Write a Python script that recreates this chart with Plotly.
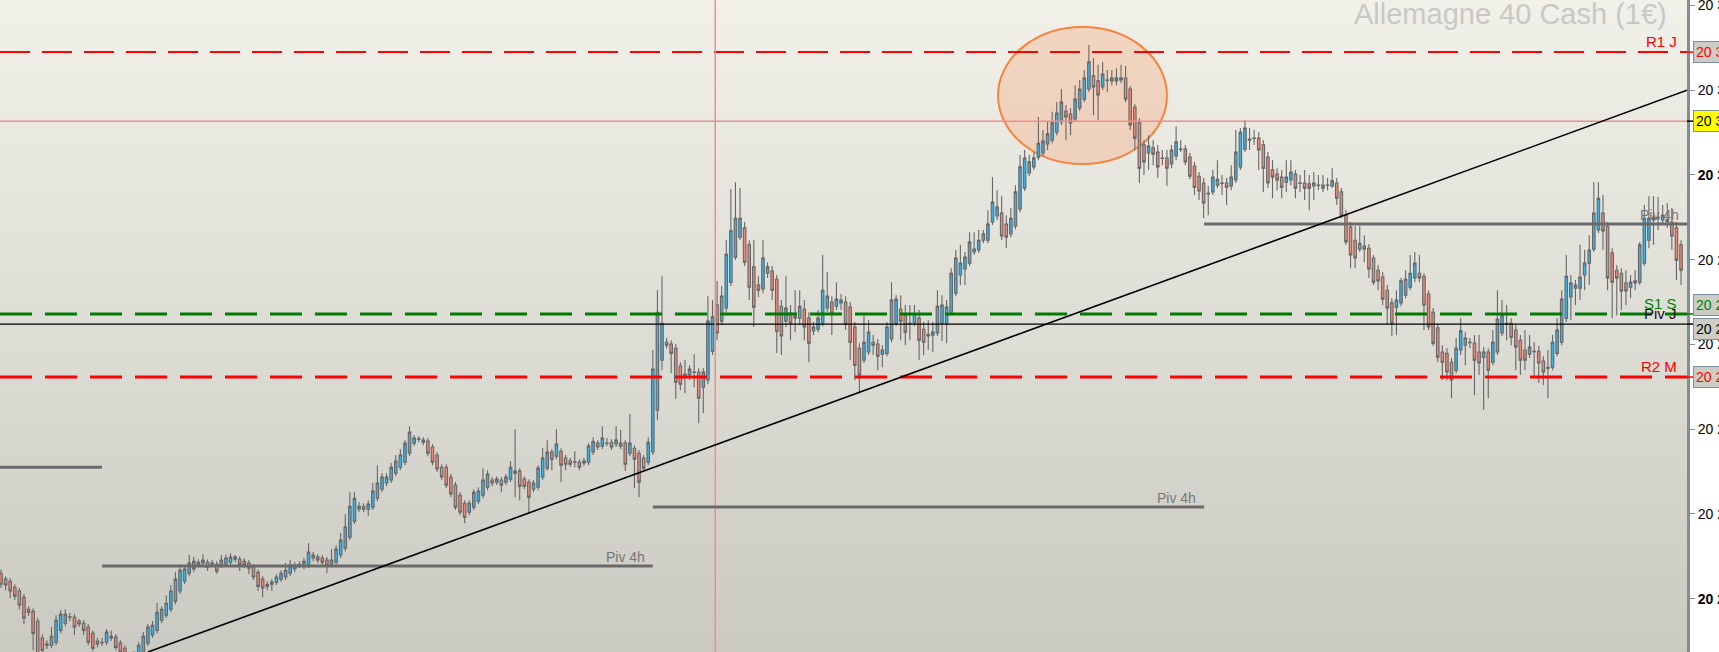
import plotly.graph_objects as go

# --- candles (one bar per period) ---
opens = [
    20206.0, 20204.6, 20204.1, 20202.7, 20201.8, 20200.3, 20197.5, 20197.0, 20194.7, 20190.7,
    20189.0, 20189.0, 20189.7, 20192.5, 20194.2, 20195.6, 20195.6, 20194.7, 20194.2, 20193.3,
    20191.8, 20190.0, 20189.7, 20189.7, 20191.1, 20190.9, 20189.5, 20188.3, 20186.4, 20184.5,
    20186.7, 20187.4, 20189.5, 20191.4, 20192.5, 20194.9, 20196.1, 20197.5, 20199.4, 20201.8,
    20204.1, 20206.0, 20207.0, 20208.1, 20208.4, 20208.6, 20208.1, 20208.1, 20207.9, 20208.1,
    20208.6, 20209.3, 20209.3, 20208.8, 20208.4, 20207.4, 20206.2, 20204.6, 20202.9, 20203.4,
    20203.9, 20204.6, 20205.1, 20206.0, 20207.0, 20207.9, 20207.7, 20207.9, 20209.6, 20209.8,
    20209.6, 20209.1, 20208.1, 20208.6, 20210.3, 20211.9, 20214.5, 20218.3, 20221.1, 20221.8,
    20221.1, 20221.6, 20223.7, 20225.8, 20227.3, 20228.0, 20229.6, 20231.0, 20232.2, 20234.3,
    20236.7, 20237.7, 20237.4, 20237.2, 20235.8, 20233.9, 20231.0, 20231.0, 20228.7, 20226.8,
    20224.4, 20222.5, 20220.4, 20221.6, 20223.0, 20224.4, 20226.3, 20228.0, 20227.5, 20228.0,
    20227.5, 20228.2, 20229.6, 20230.1, 20228.2, 20227.5, 20225.8, 20226.3, 20228.7, 20230.8,
    20234.6, 20233.6, 20234.8, 20233.2, 20232.5, 20232.2, 20232.2, 20232.0, 20232.2, 20234.6,
    20236.7, 20236.0, 20236.7, 20236.9, 20236.5, 20236.7, 20236.7, 20234.3, 20235.5, 20234.3,
    20233.2, 20232.2, 20234.6, 20244.5, 20256.3, 20260.5, 20260.1, 20259.1, 20254.9, 20253.0,
    20252.8, 20253.5, 20253.5, 20249.9, 20251.6, 20258.4, 20269.3, 20265.5, 20268.6, 20274.7,
    20280.6, 20285.3, 20287.5, 20283.5, 20278.3, 20274.0, 20273.1, 20276.8, 20277.3, 20275.4,
    20269.0, 20265.5, 20267.4, 20266.2, 20266.2, 20268.3, 20266.2, 20263.2, 20263.6, 20265.0,
    20268.6, 20270.0, 20269.0, 20269.8, 20270.0, 20268.8, 20264.1, 20259.1, 20256.3, 20258.2,
    20260.5, 20260.1, 20257.7, 20257.9, 20261.3, 20265.0, 20268.3, 20266.9, 20265.0, 20265.0,
    20266.2, 20263.6, 20262.4, 20262.2, 20262.7, 20265.0, 20265.0, 20267.6, 20272.1, 20276.4,
    20277.8, 20279.2, 20281.8, 20282.3, 20284.6, 20284.6, 20288.9, 20290.3, 20291.0, 20288.4,
    20286.1, 20287.9, 20292.0, 20296.9, 20300.5, 20301.9, 20304.2, 20305.2, 20307.3, 20308.2,
    20310.1, 20312.5, 20315.1, 20314.4, 20313.2, 20315.8, 20317.9, 20320.3, 20323.4, 20322.2,
    20320.8, 20322.4, 20322.2, 20322.2, 20322.4, 20322.9, 20320.3, 20316.0, 20312.3, 20307.1,
    20305.2, 20306.4, 20305.4, 20304.0, 20304.0, 20302.6, 20304.5, 20306.1, 20306.1, 20304.2,
    20302.1, 20299.7, 20298.1, 20295.5, 20296.0, 20297.6, 20298.1, 20298.1, 20297.4, 20298.8,
    20301.9, 20306.1, 20308.5, 20308.7, 20308.7, 20307.1, 20304.2, 20301.2, 20300.2, 20299.5,
    20298.3, 20298.8, 20300.2, 20298.1, 20298.1, 20297.9, 20297.4, 20297.6, 20297.6, 20297.6,
    20297.4, 20298.1, 20296.0, 20290.5, 20287.7, 20284.6, 20282.5, 20283.2, 20282.7, 20280.4,
    20277.5, 20275.9, 20272.8, 20269.8, 20268.8, 20269.8, 20271.6, 20273.5, 20275.7, 20276.8,
    20276.1, 20271.9, 20267.6, 20263.9, 20258.2, 20257.9, 20255.8, 20253.9, 20258.7, 20259.8,
    20260.5, 20260.3, 20258.2, 20257.0, 20258.2, 20255.8, 20258.2, 20262.7, 20265.0, 20265.0,
    20263.4, 20261.0, 20258.7, 20257.7, 20258.4, 20258.4, 20256.1, 20254.4, 20254.6, 20257.9,
    20260.5, 20266.2, 20271.2, 20273.3, 20273.3, 20276.4, 20279.2, 20282.5, 20287.0, 20291.0,
    20287.9, 20281.6, 20277.5, 20276.8, 20274.5, 20273.5, 20274.5, 20274.7, 20279.2, 20284.6,
    20289.4, 20289.8, 20289.4, 20289.4, 20288.9, 20287.5, 20283.5,
]
highs = [
    20206.9, 20205.3, 20204.8, 20203.4, 20202.5, 20201.1, 20198.2, 20197.7, 20195.4, 20191.6,
    20190.2, 20193.3, 20196.1, 20197.3, 20197.5, 20196.6, 20196.3, 20195.2, 20194.9, 20194.0,
    20192.5, 20190.7, 20190.7, 20192.8, 20192.5, 20191.6, 20190.2, 20189.0, 20187.1, 20187.6,
    20189.7, 20192.1, 20194.0, 20194.7, 20198.9, 20198.2, 20200.8, 20203.2, 20206.2, 20207.4,
    20207.9, 20210.3, 20209.8, 20209.3, 20210.5, 20209.3, 20209.1, 20208.8, 20210.3, 20210.5,
    20210.7, 20210.3, 20210.0, 20209.6, 20209.1, 20208.1, 20206.9, 20205.3, 20204.1, 20204.6,
    20205.8, 20206.7, 20208.4, 20209.1, 20208.6, 20208.8, 20209.6, 20213.1, 20211.0, 20210.5,
    20210.3, 20209.8, 20211.7, 20212.6, 20215.5, 20219.9, 20225.1, 20225.1, 20222.8, 20222.5,
    20223.2, 20227.3, 20231.5, 20229.6, 20229.6, 20232.0, 20233.9, 20235.3, 20237.4, 20240.7,
    20238.6, 20238.4, 20238.1, 20237.9, 20236.5, 20234.6, 20231.7, 20231.7, 20229.4, 20227.5,
    20225.1, 20223.2, 20223.2, 20225.8, 20226.3, 20230.8, 20230.3, 20228.7, 20228.9, 20228.7,
    20229.4, 20232.5, 20240.0, 20230.8, 20228.9, 20228.2, 20228.0, 20231.5, 20235.5, 20237.4,
    20235.3, 20240.0, 20235.5, 20233.9, 20233.2, 20234.8, 20232.9, 20233.2, 20236.7, 20238.1,
    20237.4, 20240.7, 20237.9, 20237.6, 20240.7, 20239.8, 20237.4, 20243.6, 20236.2, 20235.1,
    20233.9, 20238.1, 20258.7, 20272.8, 20276.1, 20261.5, 20261.0, 20260.1, 20255.8, 20256.3,
    20255.1, 20257.7, 20254.4, 20254.4, 20271.4, 20270.5, 20275.0, 20273.8, 20284.6, 20296.7,
    20298.3, 20296.9, 20288.9, 20284.6, 20284.6, 20276.1, 20284.6, 20279.4, 20278.5, 20276.4,
    20270.5, 20276.1, 20269.3, 20272.8, 20272.8, 20270.5, 20267.6, 20265.3, 20268.1, 20281.1,
    20277.1, 20271.4, 20274.7, 20271.9, 20271.4, 20270.0, 20265.3, 20260.3, 20266.9, 20265.7,
    20262.2, 20261.3, 20259.8, 20265.3, 20274.7, 20271.6, 20271.6, 20269.3, 20269.3, 20269.3,
    20268.1, 20265.3, 20265.7, 20265.3, 20272.8, 20271.6, 20270.5, 20278.0, 20282.3, 20283.5,
    20281.8, 20286.5, 20286.5, 20287.0, 20287.0, 20291.7, 20299.5, 20296.4, 20295.0, 20290.5,
    20292.2, 20297.6, 20304.7, 20305.9, 20304.7, 20305.4, 20313.7, 20310.6, 20312.5, 20314.9,
    20317.2, 20320.3, 20316.5, 20315.8, 20321.2, 20322.4, 20324.8, 20330.7, 20327.6, 20326.0,
    20326.7, 20324.8, 20324.8, 20325.2, 20326.0, 20325.7, 20321.0, 20316.7, 20313.4, 20308.2,
    20309.4, 20308.2, 20307.1, 20305.9, 20305.9, 20307.1, 20311.5, 20308.2, 20307.1, 20305.2,
    20303.1, 20300.7, 20299.3, 20297.4, 20301.2, 20303.5, 20300.0, 20299.3, 20302.3, 20310.6,
    20311.1, 20313.0, 20311.1, 20310.6, 20310.1, 20308.2, 20305.4, 20303.5, 20301.6, 20301.2,
    20303.5, 20303.5, 20301.2, 20300.0, 20301.2, 20300.0, 20300.7, 20300.0, 20300.0, 20299.3,
    20301.6, 20299.3, 20296.9, 20291.7, 20288.9, 20287.9, 20287.9, 20285.8, 20283.7, 20281.1,
    20278.7, 20277.1, 20274.0, 20270.9, 20272.8, 20275.7, 20277.5, 20281.1, 20281.8, 20281.1,
    20276.8, 20272.8, 20268.6, 20264.8, 20259.8, 20259.1, 20256.8, 20261.5, 20266.2, 20262.9,
    20261.5, 20262.2, 20262.2, 20259.4, 20259.1, 20263.4, 20272.8, 20270.5, 20269.3, 20266.2,
    20264.6, 20262.2, 20263.4, 20262.2, 20260.5, 20259.6, 20257.2, 20258.7, 20262.2, 20266.2,
    20272.8, 20281.1, 20276.4, 20275.2, 20283.5, 20282.3, 20285.8, 20298.3, 20298.3, 20295.3,
    20288.9, 20282.7, 20278.7, 20278.0, 20277.5, 20276.4, 20277.5, 20284.2, 20292.9, 20295.0,
    20295.0, 20294.8, 20292.9, 20293.4, 20292.2, 20288.9, 20284.6,
]
lows = [
    20202.5, 20202.0, 20200.1, 20199.6, 20197.5, 20194.0, 20195.9, 20187.8, 20185.5, 20186.7,
    20188.1, 20188.3, 20189.0, 20191.8, 20193.5, 20194.7, 20191.4, 20193.3, 20191.4, 20189.0,
    20187.6, 20188.5, 20188.8, 20189.0, 20190.0, 20187.8, 20186.4, 20185.0, 20183.1, 20183.6,
    20185.7, 20186.7, 20188.8, 20190.7, 20191.8, 20194.2, 20195.4, 20196.8, 20198.7, 20201.1,
    20203.4, 20205.3, 20206.2, 20207.4, 20207.7, 20206.5, 20207.4, 20205.8, 20207.2, 20207.7,
    20207.9, 20208.6, 20206.5, 20207.2, 20205.8, 20204.4, 20201.8, 20200.3, 20202.0, 20201.8,
    20203.2, 20203.9, 20204.4, 20205.3, 20206.2, 20207.2, 20207.0, 20207.2, 20208.8, 20208.4,
    20207.9, 20206.0, 20207.4, 20207.9, 20209.6, 20211.2, 20213.8, 20217.6, 20220.4, 20220.4,
    20219.5, 20220.9, 20223.0, 20225.1, 20226.5, 20227.3, 20228.9, 20230.3, 20231.5, 20233.6,
    20236.0, 20236.9, 20236.2, 20233.6, 20231.5, 20229.9, 20228.0, 20226.1, 20223.9, 20220.9,
    20219.7, 20217.8, 20219.7, 20220.9, 20222.3, 20223.7, 20225.6, 20226.5, 20226.8, 20225.1,
    20226.8, 20227.5, 20223.9, 20223.2, 20225.8, 20220.2, 20225.1, 20225.6, 20228.0, 20230.1,
    20230.3, 20232.9, 20227.5, 20230.3, 20231.0, 20231.0, 20230.3, 20231.3, 20231.5, 20233.9,
    20235.1, 20235.3, 20236.0, 20235.1, 20235.8, 20235.3, 20230.1, 20233.6, 20226.1, 20223.9,
    20230.1, 20231.5, 20233.9, 20242.1, 20253.9, 20259.1, 20253.2, 20247.1, 20249.2, 20248.5,
    20251.6, 20249.9, 20241.4, 20243.8, 20250.6, 20257.5, 20261.0, 20264.6, 20267.6, 20273.8,
    20279.9, 20284.6, 20278.5, 20270.5, 20264.1, 20271.2, 20272.1, 20275.7, 20270.5, 20258.0,
    20257.5, 20264.1, 20261.0, 20262.9, 20264.6, 20261.0, 20255.8, 20262.2, 20262.9, 20264.3,
    20267.6, 20262.2, 20268.1, 20268.1, 20263.4, 20256.3, 20251.6, 20248.5, 20255.6, 20257.5,
    20257.5, 20253.9, 20254.6, 20257.2, 20260.5, 20264.3, 20261.0, 20259.8, 20261.0, 20264.3,
    20256.3, 20257.5, 20258.7, 20258.2, 20262.0, 20260.8, 20260.3, 20266.9, 20271.4, 20274.0,
    20274.0, 20278.5, 20281.1, 20281.6, 20283.9, 20283.9, 20288.2, 20289.4, 20284.6, 20282.7,
    20285.3, 20287.2, 20291.2, 20296.2, 20299.7, 20301.2, 20303.5, 20304.5, 20305.9, 20307.5,
    20309.4, 20311.8, 20308.2, 20309.4, 20312.5, 20315.1, 20317.2, 20319.6, 20314.1, 20313.0,
    20320.0, 20319.6, 20321.2, 20321.2, 20321.7, 20317.2, 20310.6, 20305.9, 20298.1, 20300.0,
    20301.2, 20302.3, 20299.3, 20302.3, 20297.4, 20301.6, 20303.5, 20305.4, 20302.3, 20299.0,
    20295.3, 20294.1, 20289.8, 20290.5, 20295.3, 20296.9, 20295.3, 20292.9, 20296.4, 20298.1,
    20301.2, 20305.4, 20305.9, 20307.1, 20301.2, 20296.0, 20296.9, 20294.5, 20296.4, 20294.5,
    20296.0, 20297.6, 20294.5, 20296.0, 20294.1, 20291.7, 20294.1, 20296.4, 20296.0, 20296.4,
    20296.9, 20292.9, 20289.8, 20283.5, 20278.0, 20278.0, 20281.8, 20279.4, 20275.7, 20274.0,
    20272.8, 20269.3, 20264.6, 20262.0, 20262.2, 20269.0, 20270.9, 20272.8, 20274.7, 20274.7,
    20263.4, 20263.4, 20259.6, 20255.8, 20251.6, 20251.6, 20247.3, 20253.2, 20257.5, 20255.1,
    20259.1, 20248.0, 20252.8, 20244.5, 20247.3, 20255.1, 20257.5, 20262.0, 20261.0, 20259.8,
    20253.9, 20252.8, 20253.9, 20256.8, 20252.1, 20250.9, 20250.4, 20247.3, 20253.9, 20257.2,
    20259.8, 20265.3, 20265.7, 20269.3, 20270.5, 20272.8, 20274.0, 20281.8, 20286.3, 20282.3,
    20272.8, 20266.2, 20266.9, 20268.1, 20269.3, 20270.9, 20272.8, 20274.0, 20278.5, 20282.7,
    20283.5, 20287.0, 20288.2, 20287.5, 20282.3, 20275.2, 20274.0,
]
closes = [
    20203.4, 20203.2, 20201.8, 20200.6, 20198.5, 20195.4, 20196.8, 20191.8, 20186.7, 20187.8,
    20189.3, 20191.1, 20194.9, 20196.3, 20196.3, 20195.7, 20193.3, 20194.0, 20192.5, 20189.7,
    20188.3, 20189.3, 20189.6, 20192.1, 20190.7, 20188.5, 20187.4, 20185.9, 20184.3, 20186.7,
    20189.0, 20191.1, 20193.3, 20193.7, 20196.8, 20197.5, 20198.9, 20201.8, 20204.6, 20206.7,
    20207.0, 20208.4, 20208.8, 20208.6, 20209.1, 20207.4, 20208.4, 20206.5, 20209.1, 20209.6,
    20209.8, 20209.8, 20208.1, 20207.9, 20207.2, 20205.1, 20202.9, 20202.5, 20203.4, 20203.9,
    20205.1, 20206.0, 20206.7, 20207.9, 20207.9, 20208.1, 20208.8, 20211.0, 20210.3, 20209.1,
    20208.6, 20207.9, 20209.1, 20211.7, 20213.8, 20216.9, 20221.8, 20223.7, 20221.8, 20221.1,
    20222.3, 20225.4, 20227.3, 20228.7, 20228.7, 20231.0, 20232.5, 20233.9, 20236.7, 20239.3,
    20237.9, 20237.6, 20236.9, 20234.3, 20232.2, 20230.6, 20228.7, 20226.8, 20224.7, 20221.6,
    20220.4, 20219.2, 20222.5, 20225.1, 20225.4, 20228.0, 20229.4, 20227.3, 20228.2, 20226.8,
    20228.7, 20231.0, 20230.1, 20226.5, 20226.5, 20223.9, 20227.3, 20230.8, 20233.2, 20234.6,
    20232.9, 20236.5, 20231.5, 20231.7, 20231.7, 20232.3, 20231.0, 20232.5, 20236.0, 20237.1,
    20235.8, 20237.9, 20236.6, 20235.8, 20237.4, 20236.0, 20231.7, 20236.7, 20232.9, 20227.5,
    20230.8, 20236.9, 20254.2, 20267.6, 20265.0, 20259.8, 20257.9, 20251.1, 20250.6, 20252.3,
    20254.2, 20253.4, 20247.3, 20253.5, 20265.5, 20266.5, 20262.7, 20271.4, 20281.3, 20286.8,
    20289.8, 20289.8, 20279.4, 20273.5, 20268.8, 20272.8, 20280.4, 20278.3, 20272.8, 20263.1,
    20262.0, 20268.6, 20265.0, 20266.7, 20269.0, 20264.1, 20260.3, 20264.1, 20266.2, 20272.8,
    20271.4, 20267.4, 20270.7, 20270.5, 20264.8, 20260.5, 20255.1, 20252.8, 20260.5, 20262.9,
    20259.8, 20257.2, 20258.7, 20264.1, 20270.5, 20270.7, 20265.5, 20262.9, 20264.9, 20267.2,
    20261.0, 20260.5, 20262.0, 20262.9, 20269.0, 20269.3, 20268.8, 20276.8, 20280.4, 20279.2,
    20280.6, 20284.2, 20282.5, 20284.6, 20286.1, 20288.4, 20293.6, 20292.4, 20285.6, 20285.3,
    20289.8, 20296.0, 20301.9, 20304.0, 20303.1, 20304.0, 20307.5, 20308.0, 20309.7, 20312.3,
    20314.6, 20317.2, 20313.7, 20312.3, 20317.9, 20320.3, 20322.9, 20326.7, 20320.8, 20318.9,
    20323.8, 20322.3, 20322.9, 20322.9, 20322.9, 20317.9, 20311.8, 20308.7, 20301.6, 20303.1,
    20306.8, 20304.9, 20301.9, 20303.9, 20301.6, 20305.9, 20307.8, 20306.0, 20303.1, 20299.7,
    20297.1, 20296.2, 20293.4, 20295.7, 20299.5, 20299.0, 20298.0, 20297.1, 20299.5, 20305.4,
    20310.1, 20311.1, 20308.2, 20308.6, 20305.9, 20301.6, 20298.1, 20299.5, 20298.8, 20297.1,
    20299.5, 20300.7, 20296.9, 20298.0, 20296.9, 20296.9, 20298.1, 20297.5, 20296.9, 20297.5,
    20298.6, 20294.5, 20290.5, 20284.2, 20281.1, 20280.4, 20283.9, 20282.5, 20277.8, 20274.7,
    20275.0, 20270.7, 20268.6, 20265.0, 20270.5, 20275.0, 20275.4, 20276.8, 20279.2, 20275.7,
    20269.3, 20264.1, 20260.3, 20257.0, 20255.8, 20253.5, 20251.6, 20259.1, 20263.2, 20261.5,
    20260.4, 20256.3, 20255.6, 20258.2, 20253.9, 20260.5, 20266.0, 20266.9, 20264.8, 20261.7,
    20259.4, 20256.3, 20256.3, 20259.4, 20258.3, 20255.6, 20253.5, 20254.6, 20260.5, 20263.4,
    20270.7, 20276.1, 20274.5, 20274.0, 20275.9, 20279.2, 20282.3, 20291.0, 20294.5, 20286.8,
    20275.7, 20274.7, 20275.7, 20272.6, 20272.6, 20274.7, 20275.0, 20283.5, 20289.8, 20289.8,
    20290.0, 20290.0, 20290.5, 20288.9, 20285.6, 20279.9, 20277.5,
]
bars = list(range(len(closes)))

# --- levels drawn on the chart ---
r1_j = 20329.0
cursor_price = 20312.7
s1_s = 20267.2
piv_j = 20264.8
r2_m = 20252.3

piv4h_levels = [20231.0, 20207.7, 20221.6, 20288.4]
piv4h_start = [-0.22, 22.0, 142.0, 262.1]
piv4h_end = [22.0, 142.0, 262.1, 367.3]

trend_x = [32.0, 367.3]
trend_y = [20187.4, 20320.0]

cursor_bar = 155.6
circle_x = [217.2, 254.0]
circle_y = [20302.6, 20334.9]

tick_vals = [20340, 20320, 20300, 20280, 20260, 20240, 20220, 20200]
tick_text = ["20 340", "20 320", "<b>20 300</b>", "20 280", "20 260",
             "20 240", "20 220", "<b>20 200</b>"]

x_range = [-0.22, 367.3]
y_range = [20187.4, 20341.3]

FONT = "Liberation Sans, Arial, sans-serif"

fig = go.Figure()

fig.add_trace(go.Candlestick(
    x=bars, open=opens, high=highs, low=lows, close=closes,
    increasing=dict(fillcolor="#36b2e6", line=dict(color="#666666", width=1.1)),
    decreasing=dict(fillcolor="#f08876", line=dict(color="#666666", width=1.1)),
    whiskerwidth=0, showlegend=False, hoverinfo="skip",
))

# background gradient (light at top, darker at bottom)
n_bands = 60
top_rgb = (241, 240, 233)
bot_rgb = (203, 202, 194)
for i in range(n_bands):
    t = (i + 0.5) / n_bands
    c = tuple(round(b + (tp - b) * t) for b, tp in zip(bot_rgb, top_rgb))
    fig.add_shape(type="rect", xref="paper", yref="paper", x0=0, x1=1,
                  y0=i / n_bands, y1=(i + 1) / n_bands + 0.002,
                  fillcolor="rgb(%d,%d,%d)" % c, line_width=0, layer="below")

# highlight ellipse
fig.add_shape(type="circle", x0=circle_x[0], x1=circle_x[1], y0=circle_y[0], y1=circle_y[1],
              fillcolor="rgba(250,165,115,0.33)", line=dict(color="#f5843f", width=2),
              layer="below")

# horizontal levels
fig.add_shape(type="line", xref="paper", x0=0, x1=1, y0=cursor_price, y1=cursor_price,
              line=dict(color="#f28b8b", width=1.5))
fig.add_shape(type="line", xref="paper", x0=0, x1=1, y0=r1_j, y1=r1_j,
              line=dict(color="#ff0000", width=2, dash="30px,12px"))
fig.add_shape(type="line", xref="paper", x0=0, x1=1, y0=piv_j, y1=piv_j,
              line=dict(color="#000000", width=1.3))
fig.add_shape(type="line", xref="paper", x0=0, x1=1, y0=s1_s, y1=s1_s,
              line=dict(color="#007a00", width=3, dash="32px,13px"))
fig.add_shape(type="line", xref="paper", x0=0, x1=1, y0=r2_m, y1=r2_m,
              line=dict(color="#ff0000", width=3, dash="32px,13px"))

# vertical cursor
fig.add_shape(type="line", yref="paper", x0=cursor_bar, x1=cursor_bar, y0=0, y1=1,
              line=dict(color="#f28b8b", width=1.5))

# 4h pivots
for lv, x0, x1 in zip(piv4h_levels, piv4h_start, piv4h_end):
    fig.add_shape(type="line", x0=x0, x1=x1, y0=lv, y1=lv,
                  line=dict(color="#6a6a6a", width=3))
    if x1 - x0 > 50:
        fig.add_annotation(x=x1, y=lv, text="Piv 4h", showarrow=False,
                           xanchor="right", yanchor="bottom", xshift=-6, yshift=-1,
                           font=dict(family=FONT, size=14, color="#777777"))

# trend line
fig.add_shape(type="line", x0=trend_x[0], x1=trend_x[1], y0=trend_y[0], y1=trend_y[1],
              line=dict(color="#000000", width=1.6))

# level names inside the plot
for txt, lv, col in [("Piv J", piv_j, "#111111"), ("R1 J", r1_j, "#ff0000"),
                     ("S1 S", s1_s, "#008000"), ("R2 M", r2_m, "#ff0000")]:
    fig.add_annotation(xref="paper", x=1, y=lv, text=txt, showarrow=False,
                       xanchor="right", yanchor="bottom", xshift=-8, yshift=0,
                       font=dict(family=FONT, size=15, color=col))

# price tags on the axis
for lv, col, bg, dy in [(r1_j, "#ff0000", "#cdcdc5", 0), (cursor_price, "#000000", "#ffff00", 0),
                        (s1_s, "#008000", "#cdcdc5", 9), (piv_j, "#000000", "#cdcdc5", -5),
                        (r2_m, "#ff0000", "#cdcdc5", 0)]:
    fig.add_shape(type="line", xref="paper", x0=1, x1=1.004, y0=lv, y1=lv,
                  line=dict(color=col, width=1.5))
    fig.add_annotation(xref="paper", x=1, y=lv, text="20 %d" % (round(lv) - 20000),
                       showarrow=False, xanchor="left", yanchor="middle", xshift=6, yshift=dy,
                       bgcolor=bg, bordercolor="#7f8f98", borderwidth=1, borderpad=2,
                       font=dict(family=FONT, size=14, color=col))

fig.add_annotation(xref="paper", yref="paper", x=1, y=1, text="Allemagne 40 Cash (1€)",
                   showarrow=False, xanchor="right", yanchor="top", xshift=-18, yshift=4,
                   font=dict(family=FONT, size=29, color="#c8c9c4"))

fig.update_layout(
    width=1719, height=652,
    margin=dict(l=0, r=32, t=0, b=0, pad=0, autoexpand=False),
    paper_bgcolor="#ffffff",
    plot_bgcolor="#dedcd4",
    boxgap=0.22,
    xaxis=dict(range=x_range, visible=False, rangeslider=dict(visible=False)),
    yaxis=dict(range=y_range, side="right", tickvals=tick_vals, ticktext=tick_text,
               automargin=False, ticklabeloverflow="allow",
               ticks="outside", ticklen=5, tickcolor="#7d8f99", tickwidth=1,
               showline=True, linecolor="#7d8f99", linewidth=3, mirror=False,
               showgrid=False, zeroline=False,
               tickfont=dict(family=FONT, size=14, color="#000000")),
    font=dict(family=FONT),
)

fig.write_html("out.html", config={"displayModeBar": False},
               post_script="document.body.style.margin='0';document.body.style.overflow='hidden';")
